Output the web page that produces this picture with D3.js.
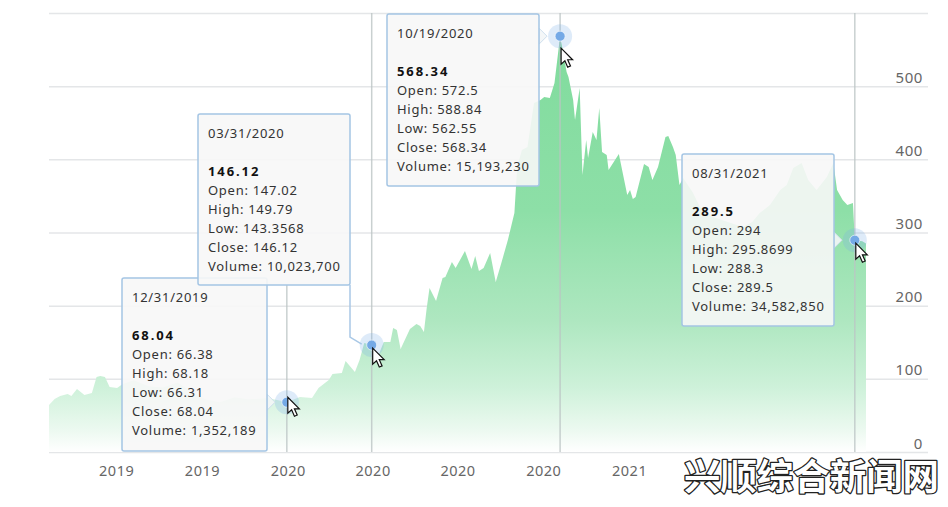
<!DOCTYPE html>
<html>
<head>
<meta charset="utf-8">
<style>
  html, body { margin: 0; padding: 0; background: #fff; }
  svg { display: block; }
  text { font-family: "Noto Sans", sans-serif; }
</style>
<script src="https://cdn.jsdelivr.net/npm/d3@7"></script>
</head>
<body>
<svg id="chart" width="948" height="507"></svg>
<script>
// Price series
const dates = [
  '2019-04-20', '2019-04-26', '2019-05-02', '2019-05-10', '2019-05-14', '2019-05-20', '2019-05-28',
  '2019-06-05', '2019-06-10', '2019-06-14', '2019-06-19', '2019-06-24', '2019-07-02', '2019-07-08',
  '2019-07-20', '2019-08-05', '2019-08-20', '2019-09-05', '2019-09-20', '2019-10-05', '2019-10-20',
  '2019-11-05', '2019-11-20', '2019-12-11', '2019-12-31',
  '2020-01-14', '2020-01-27', '2020-02-03', '2020-02-14', '2020-02-18', '2020-02-28', '2020-03-03',
  '2020-03-13', '2020-03-18', '2020-03-23', '2020-03-31', '2020-04-06', '2020-04-13', '2020-04-20',
  '2020-04-23', '2020-04-27', '2020-05-01', '2020-05-11', '2020-05-18', '2020-05-22', '2020-05-26',
  '2020-05-29', '2020-06-01', '2020-06-08', '2020-06-15', '2020-06-18', '2020-06-25', '2020-06-29',
  '2020-07-09', '2020-07-16', '2020-07-20', '2020-07-24', '2020-07-29', '2020-08-05', '2020-08-11',
  '2020-08-17', '2020-08-24', '2020-08-31', '2020-09-03', '2020-09-08', '2020-09-14', '2020-09-21',
  '2020-09-28', '2020-10-02', '2020-10-08', '2020-10-13', '2020-10-19', '2020-10-26', '2020-10-28',
  '2020-11-02', '2020-11-04', '2020-11-09', '2020-11-12', '2020-11-16', '2020-11-18', '2020-11-23',
  '2020-11-27', '2020-11-30', '2020-12-03', '2020-12-08', '2020-12-10', '2020-12-21', '2020-12-30',
  '2021-01-02', '2021-01-05', '2021-01-08', '2021-01-17', '2021-01-22', '2021-01-26', '2021-02-01',
  '2021-02-09', '2021-02-12', '2021-02-17', '2021-02-20', '2021-02-24', '2021-02-28', '2021-03-10',
  '2021-03-18', '2021-04-01', '2021-04-17', '2021-05-03', '2021-05-13', '2021-05-21', '2021-06-01',
  '2021-06-12', '2021-06-19', '2021-06-26', '2021-07-05', '2021-07-12', '2021-07-21', '2021-08-01',
  '2021-08-08', '2021-08-12', '2021-08-18', '2021-08-23', '2021-08-29', '2021-08-31', '2021-09-08',
  '2021-09-12'
];
const closes = [
  64.2, 72.4, 76.5, 79.3, 76.5, 86.1, 77.9,
  80.6, 102.5, 103.9, 102.5, 88.8, 87.5, 92.9,
  98, 90, 88, 95, 82, 72, 68,
  75, 72, 73.8, 68.04,
  75.2, 73.8, 87.5, 98.4, 106.6, 108, 124.4,
  109.3, 125.7, 149, 146.12, 128.5, 150.3, 150.3,
  169.5, 166.7, 140.8, 168.1, 174.9, 172.2, 164,
  196.8, 224.1, 206.4, 237.8, 239.2, 259.7, 251.5,
  274.7, 250.1, 267.9, 247.4, 251.5, 272, 232.3,
  258.3, 289.7, 326.6, 389.5, 412.7, 416.8, 477,
  481, 485.2, 483.8, 504.3, 568.34, 519.3, 512.5,
  481, 453.7, 497.5, 378.6, 426.4, 401.8, 437.3,
  426.4, 470.1, 410, 405.9, 385.4, 407.3, 351.2,
  358.1, 345.8, 348.5, 393.6, 389.5, 371.7, 389.5,
  430.5, 431.9, 416.8, 405.9, 364.9, 374.5, 355.3,
  334.8, 321.2, 314.3, 307.5, 314.3, 326.6, 337.6,
  358.1, 364.9, 388.1, 395, 371.7, 358.1, 375.8,
  395, 358.1, 344.4, 337.6, 340.3, 289.5, 288,
  285
];

const yTicks = [0, 100, 200, 300, 400, 500, 600];
// The two later 2021 labels are lost under the watermark in the picture
const xTicks = ['2019-07-01', '2019-10-01', '2020-01-01', '2020-04-01', '2020-07-01', '2020-10-01', '2021-01-01'];

// Hovered days shown in the tooltips
const tipDates = ['12/31/2019', '03/31/2020', '10/19/2020', '08/31/2021'];
const tipOpen = ['66.38', '147.02', '572.5', '294'];
const tipHigh = ['68.18', '149.79', '588.84', '295.8699'];
const tipLow = ['66.31', '143.3568', '562.55', '288.3'];
const tipClose = ['68.04', '146.12', '568.34', '289.5'];
const tipVolume = ['1,352,189', '10,023,700', '15,193,230', '34,582,850'];

const svg = d3.select('#chart');
const parseIso = d3.timeParse('%Y-%m-%d');
const parseTip = d3.timeParse('%m/%d/%Y');

const series = dates.map((d, i) => ({ date: parseIso(d), close: closes[i] }));

const x = d3.scaleTime()
  .domain([parseIso('2019-04-20'), parseIso('2021-09-12')])
  .range([49, 866]);
const y = d3.scaleLinear().domain([0, 600]).range([452, 13]);

const gradient = svg.append('defs').append('linearGradient')
  .attr('id', 'areaFill')
  .attr('gradientUnits', 'userSpaceOnUse')
  .attr('x1', 0).attr('x2', 0)
  .attr('y1', y(600)).attr('y2', y(0));
[[0, '#7fdb9c'], [0.45, '#8ddfa7'], [0.7, '#aee7c0'], [0.85, '#cdf1d9'], [0.95, '#ecf9f0'], [1, '#ffffff']]
  .forEach(s => gradient.append('stop').attr('offset', s[0]).attr('stop-color', s[1]));

// Grid lines and value labels
const yAxis = d3.axisLeft(y).tickValues(yTicks).tickSize(879);
svg.append('g')
  .attr('transform', 'translate(928,0)')
  .call(yAxis)
  .call(g => g.select('.domain').remove())
  .call(g => g.selectAll('.tick line').attr('stroke', '#e4e6e8').attr('stroke-width', 1.5))
  .call(g => g.selectAll('.tick text')
    .attr('x', -5)
    .attr('y', -4)
    .attr('dy', 0)
    .attr('text-anchor', 'end')
    .style('font-size', '15px')
    .style('letter-spacing', '0.6px')
    .style('fill', '#666'))
  .call(g => g.selectAll('.tick').filter(d => d === 600).select('text').remove());

const xAxis = d3.axisBottom(x)
  .tickValues(xTicks.map(parseIso))
  .tickSize(0)
  .tickFormat(d3.timeFormat('%Y'));
svg.append('g')
  .attr('transform', 'translate(0,452)')
  .call(xAxis)
  .call(g => g.select('.domain').remove())
  .call(g => g.selectAll('.tick text')
    .attr('y', 24)
    .attr('dy', 0)
    .style('font-size', '14.5px')
    .style('letter-spacing', '0.5px')
    .style('fill', '#666'));

const area = d3.area()
  .x(d => x(d.date))
  .y0(y(0))
  .y1(d => y(d.close));

svg.append('path')
  .datum(series)
  .attr('d', area)
  .attr('fill', 'url(#areaFill)');

// The first crosshair only shows below the tooltip that sits over it
const crossTop = [285, 13, 13, 13];
svg.append('g').selectAll('line')
  .data(tipDates)
  .join('line')
  .attr('x1', d => x(parseTip(d)))
  .attr('x2', d => x(parseTip(d)))
  .attr('y1', (d, i) => crossTop[i])
  .attr('y2', y(0))
  .attr('stroke', '#bcc4c4')
  .attr('stroke-opacity', 0.8)
  .attr('stroke-width', 1.5);

const markers = svg.append('g').selectAll('g')
  .data(tipDates)
  .join('g')
  .attr('transform', (d, i) => `translate(${x(parseTip(d))},${y(+tipClose[i])})`);
markers.append('circle').attr('r', 12).attr('fill', '#7caee8').attr('fill-opacity', 0.25);
markers.append('circle').attr('r', 5).attr('fill', '#74a9e6').attr('stroke', '#fff').attr('stroke-opacity', 0.6);

// Tooltip boxes, in drawing order
const boxLeft = [122, 198, 387, 682];
const boxTop = [278, 114, 14, 154];
const boxWidth = [145, 152, 152, 152];
const boxHeight = [173, 171, 172, 172];

tipDates.forEach((day, i) => {
  const px = x(parseTip(day));
  const py = y(+tipClose[i]);
  const left = boxLeft[i];
  const top = boxTop[i];
  const right = left + boxWidth[i];
  const bottom = top + boxHeight[i];
  const g = svg.append('g');

  // Pointer towards the point; on the second box it runs down from the corner
  if (py > bottom) {
    g.append('path')
      .attr('d', `M${right},${bottom} V${py - 8} L${px - 10},${py - 1}`)
      .attr('fill', 'none')
      .attr('stroke', '#a9c8e6')
      .attr('stroke-width', 1.5);
  } else {
    g.append('path')
      .attr('d', `M${right},${py - 8} L${right + 8},${py} L${right},${py + 8} Z`)
      .attr('fill', '#f3f6f7')
      .attr('fill-opacity', 0.9)
      .attr('stroke', '#cfe0ee');
  }

  g.append('rect')
    .attr('x', left)
    .attr('y', top)
    .attr('width', boxWidth[i])
    .attr('height', boxHeight[i])
    .attr('rx', 2)
    .attr('fill', '#f7f7f7')
    .attr('fill-opacity', 0.9)
    .attr('stroke', '#a4c5e4')
    .attr('stroke-width', 1.5);

  const lines = [
    { text: day, dy: 24 },
    { text: tipClose[i], dy: 62, bold: true },
    { text: `Open: ${tipOpen[i]}`, dy: 81 },
    { text: `High: ${tipHigh[i]}`, dy: 100 },
    { text: `Low: ${tipLow[i]}`, dy: 119 },
    { text: `Close: ${tipClose[i]}`, dy: 138 },
    { text: `Volume: ${tipVolume[i]}`, dy: 157 }
  ];
  g.selectAll('text')
    .data(lines)
    .join('text')
    .attr('x', left + 10)
    .attr('y', l => top + l.dy)
    .style('font-size', '13px')
    .style('letter-spacing', l => l.bold ? '1.9px' : '0.72px')
    .style('font-weight', l => l.bold ? 700 : 400)
    .style('fill', l => l.bold ? '#111' : '#333')
    .text(l => l.text);
});

// Mouse pointers left in the screenshot
const cursorDy = [-5, 3, 12, 3];
svg.append('g').selectAll('path')
  .data(tipDates)
  .join('path')
  .attr('d', 'M0 0 L0 16 L3.8 12.6 L6.6 19 L9.4 17.8 L6.6 11.6 L11.5 11.6 Z')
  .attr('transform', (d, i) => `translate(${x(parseTip(d)) + 1},${y(+tipClose[i]) + cursorDy[i]})`)
  .attr('fill', '#fff')
  .attr('stroke', '#111')
  .attr('stroke-width', 1.2);

// Site watermark across the bottom right corner
svg.append('text')
  .attr('x', 684)
  .attr('y', 490)
  .attr('textLength', 255)
  .attr('lengthAdjust', 'spacingAndGlyphs')
  .style('font-family', '"Noto Sans CJK SC", sans-serif')
  .style('font-size', '36px')
  .style('font-weight', 700)
  .style('fill', '#fff')
  .style('stroke', '#222')
  .style('stroke-width', 2.6)
  .style('paint-order', 'stroke')
  .style('stroke-linejoin', 'round')
  .text('兴顺综合新闻网');
</script>
</body>
</html>
